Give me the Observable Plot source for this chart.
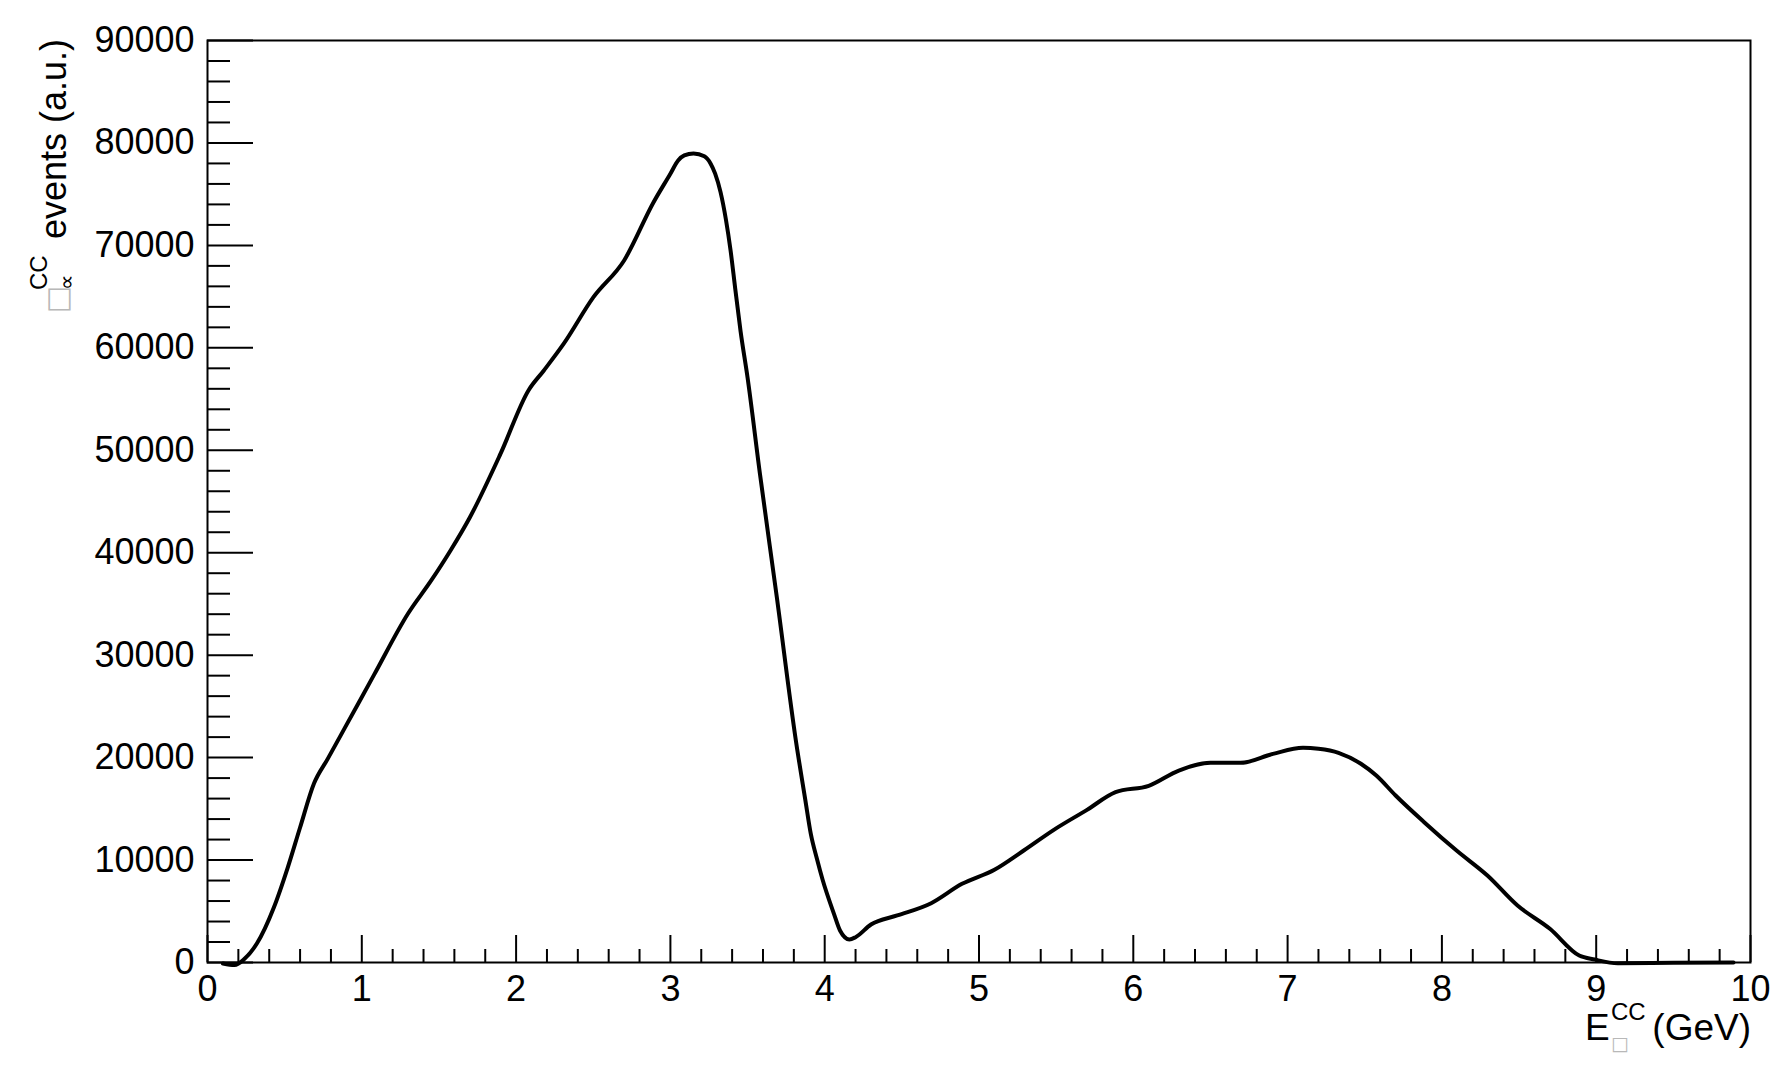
<!DOCTYPE html>
<html>
<head>
<meta charset="utf-8">
<script src="https://cdn.jsdelivr.net/npm/d3@7"></script>
<script src="https://cdn.jsdelivr.net/npm/@observablehq/plot@0.6"></script>
<style>
  html, body { margin: 0; padding: 0; background: #fff; }
</style>
</head>
<body>
<div id="chart"></div>
<script>
// Energy (GeV)
const energy = [0.10, 0.175, 0.24, 0.32, 0.43, 0.52, 0.60, 0.69, 0.78, 0.89, 1.08, 1.30, 1.45, 1.575, 1.70, 1.90, 2.08, 2.18, 2.31, 2.50, 2.70, 2.89, 3.00, 3.05, 3.09, 3.15, 3.22, 3.26, 3.29, 3.325, 3.36, 3.39, 3.42, 3.455, 3.50, 3.58, 3.69, 3.815, 3.874, 3.91, 3.95, 3.986, 4.06, 4.10, 4.16, 4.20, 4.30, 4.47, 4.69, 4.89, 5.10, 5.29, 5.485, 5.70, 5.885, 6.10, 6.295, 6.50, 6.695, 6.905, 7.10, 7.20, 7.33, 7.475, 7.575, 7.70, 7.885, 8.095, 8.295, 8.49, 8.70, 8.89, 8.99, 9.14, 9.50, 9.89];
// Events (a.u.)
const events = [-100, -250, 360, 1850, 5370, 9270, 13180, 17470, 19900, 22900, 28100, 34070, 37290, 40220, 43440, 49690, 55840, 57790, 60430, 64920, 68530, 74190, 77000, 78290, 78780, 78980, 78700, 78000, 77000, 75200, 72500, 69500, 65800, 61600, 57110, 47740, 35630, 21480, 15900, 12550, 10100, 8100, 4750, 3100, 2250, 2470, 3710, 4590, 5790, 7680, 9050, 10930, 12950, 14900, 16630, 17250, 18740, 19490, 19490, 20370, 20960, 20860, 20470, 19400, 18250, 16300, 13700, 10930, 8490, 5560, 3290, 680, 290, -80, -30, 0];

// Axis ticks
const xMajor = [0, 1, 2, 3, 4, 5, 6, 7, 8, 9, 10];
const xMinor = d3.range(0, 10.001, 0.2).map(v => +v.toFixed(1)).filter(v => !xMajor.includes(v));
const yMajor = [0, 10000, 20000, 30000, 40000, 50000, 60000, 70000, 80000, 90000];
const yMinor = d3.range(0, 90001, 2000).filter(v => v % 10000 !== 0);

const data = energy.map((e, i) => ({e, n: events[i]}));

const W = 1790, H = 1069;
const mL = 207, mR = 40, mT = 40, mB = 107;
const iw = W - mL - mR, ih = H - mT - mB;
const font = "'Liberation Sans', Arial, Helvetica, sans-serif";

const chart = Plot.plot({
  width: W,
  height: H,
  marginLeft: mL,
  marginRight: mR,
  marginTop: mT,
  marginBottom: mB,
  style: {fontFamily: font, fontSize: "36px", background: "#fff", color: "#000"},
  x: {domain: [0, 10]},
  y: {domain: [0, 90000]},
  marks: [
    Plot.frame({stroke: "#000", strokeWidth: 2}),
    Plot.tickY(yMajor, {y: d => d, insetRight: iw - 46, stroke: "#000", strokeWidth: 2}),
    Plot.tickY(yMinor, {y: d => d, insetRight: iw - 23, stroke: "#000", strokeWidth: 2}),
    Plot.tickX(xMajor, {x: d => d, insetTop: ih - 27, stroke: "#000", strokeWidth: 2}),
    Plot.tickX(xMinor, {x: d => d, insetTop: ih - 13, stroke: "#000", strokeWidth: 2}),
    Plot.axisX({ticks: xMajor, tickSize: 0, tickPadding: 13, tickFormat: d => String(d), label: null, fontSize: 36, fill: "#000"}),
    Plot.axisY({ticks: yMajor, tickSize: 0, tickPadding: 13, tickFormat: d => String(d), label: null, fontSize: 36, fill: "#000"}),
    Plot.line(data, {x: "e", y: "n", curve: "monotone-x", stroke: "#000", strokeWidth: 4})
  ]
});

document.getElementById("chart").appendChild(chart);

// Axis titles
const svg = d3.select(chart);
const tofu = "\u25A1";

// X title: E^CC_□ (GeV)
const xt = svg.append("g").attr("font-family", font).attr("fill", "#000").attr("text-anchor", "start");
xt.append("text").attr("x", 1585).attr("y", 1040).attr("font-size", 37).text("E");
xt.append("text").attr("x", 1611).attr("y", 1020).attr("font-size", 24).text("CC");
xt.append("text").attr("x", 1611).attr("y", 1050).attr("font-size", 19)
  .attr("font-family", "'DejaVu Sans', sans-serif").attr("fill", "#b8b8b8").text(tofu);
xt.append("text").attr("x", 1751).attr("y", 1040).attr("font-size", 37).attr("text-anchor", "end").text("(GeV)");

// Y title: □^CC_∝ events (a.u.)
const yt = svg.append("g").attr("transform", "rotate(-90)").attr("font-family", font).attr("fill", "#000").attr("text-anchor", "start");
yt.append("text").attr("x", -313).attr("y", 67).attr("font-size", 29)
  .attr("font-family", "'DejaVu Sans', sans-serif").attr("fill", "#b8b8b8").text(tofu);
yt.append("text").attr("x", -290).attr("y", 47).attr("font-size", 24).text("CC");
yt.append("text").attr("x", -290).attr("y", 74).attr("font-size", 22).text("\u221D");
yt.append("text").attr("x", -39).attr("y", 66).attr("font-size", 36).attr("text-anchor", "end").text("events (a.u.)");
</script>
</body>
</html>
